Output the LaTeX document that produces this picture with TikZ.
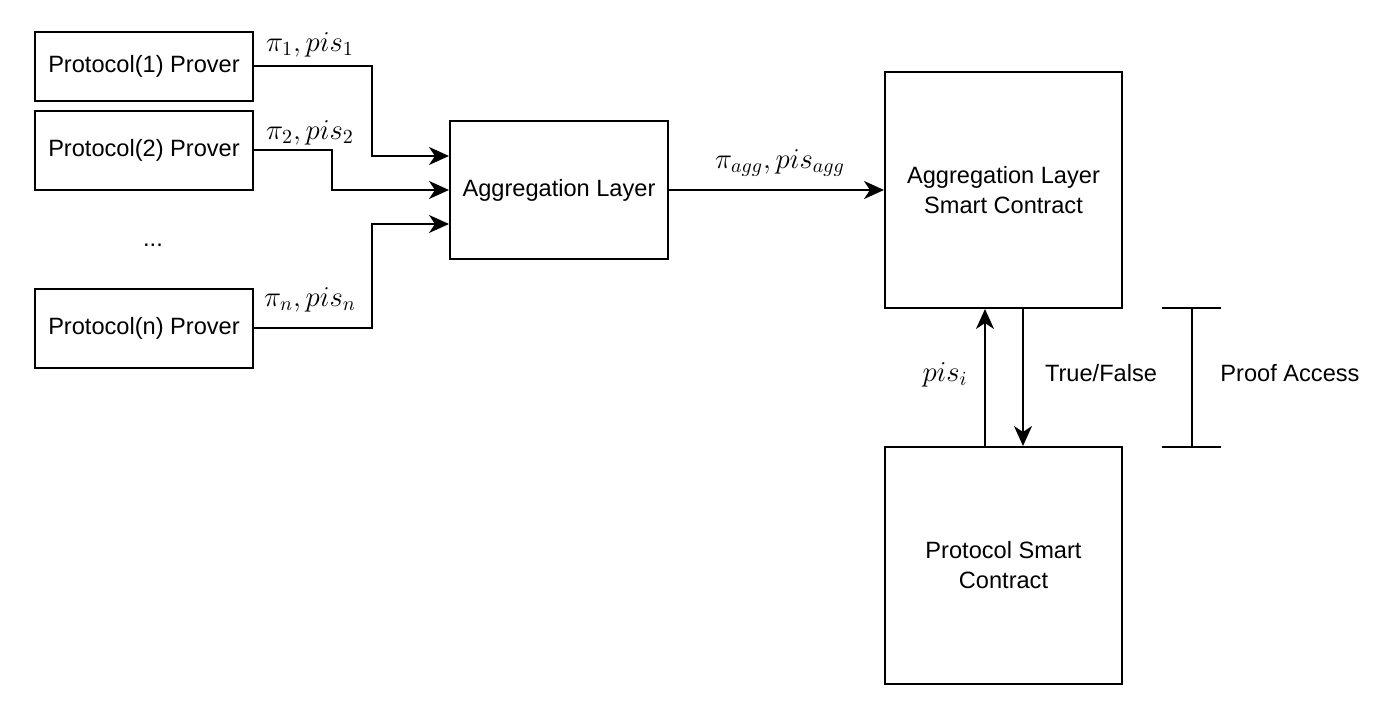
\documentclass[tikz,border=0pt]{standalone}
\usepackage{amsmath}
\usepackage{fontspec}
\setmainfont{Liberation Sans}
\usetikzlibrary{positioning,arrows.meta}

\begin{document}
\begin{tikzpicture}[x=0.5pt, y=-0.5pt, font=\fontsize{11.8}{15}\selectfont,
    box/.style={draw, line width=1pt, inner sep=0pt, align=center},
    arr/.style={line width=1pt, -{Stealth[length=10pt, width=9pt, inset=3pt]}},
    lbl/.style={inner sep=0pt, font=\fontsize{14.5}{16}\selectfont}]
    \useasboundingbox (0,0) rectangle (1382,726);
    \node[box, minimum width=109pt, minimum height=34.5pt] (p1) at (144,66.5) {Protocol(1) Prover};
    \node[box, minimum width=109pt, minimum height=39.5pt] (p2) at (144,150.5) {Protocol(2) Prover};
    \node (dots) at (153,245) {...};
    \node[box, minimum width=109pt, minimum height=39.5pt] (pn) at (144,328.5) {Protocol(n) Prover};
    \node[box, minimum width=109pt, minimum height=69pt] (agg) at (559,190) {Aggregation Layer};
    \node[box, minimum width=118.5pt, minimum height=118pt] (alsc) at (1003.5,190) {Aggregation Layer\\Smart Contract};
    \node[box, minimum width=118.5pt, minimum height=118.5pt] (psc) at (1003.5,565.5) {Protocol Smart\\Contract};
    \draw[arr] (p1.east) -- ++(118,0) |- ([yshift=17pt]agg.west);
    \draw[arr] (p2.east) -- ++(78,0) |- (agg.west);
    \draw[arr] (pn.east) -- ++(118,0) |- ([yshift=-17pt]agg.west);
    \draw[arr] (agg.east) -- (alsc.west);
    \draw[arr] ([xshift=-9.25pt]psc.north) -- ([xshift=-9.25pt]alsc.south);
    \draw[arr] ([xshift=9.75pt]alsc.south) -- ([xshift=9.75pt]psc.north);
    \node[lbl] (l1) at (310,45) {$\pi_1, pis_1$};
    \node[lbl] (l2) at (310,133) {$\pi_2, pis_2$};
    \node[lbl] (ln) at (310,300) {$\pi_n, pis_n$};
    \node[lbl] (lagg) at (780,163) {$\pi_{agg}, pis_{agg}$};
    \node[lbl] (lpis) at (945,375) {$pis_i$};
    \node (ltf) at (1101,373) {True/False};
    % proof access bracket
    \draw[line width=1pt] (1162,308) -- (1221,308);
    \draw[line width=1pt] (1162,447) -- (1221,447);
    \draw[line width=1pt] (1192,308) -- (1192,447);
    \node (lpa) at (1290,373) {Proof Access};
\end{tikzpicture}
\end{document}
